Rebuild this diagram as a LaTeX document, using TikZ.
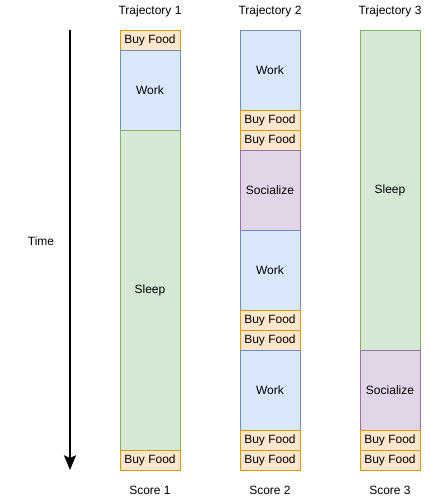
\documentclass[tikz,border=0pt]{standalone}
\usepackage{fontspec}
\setmainfont{Liberation Sans}
\usepackage{tikz}
\usetikzlibrary{calc,positioning,arrows.meta}
\definecolor{workfill}{HTML}{DAE8FC}
\definecolor{workline}{HTML}{6C8EBF}
\definecolor{sleepfill}{HTML}{D5E8D4}
\definecolor{sleepline}{HTML}{82B366}
\definecolor{foodfill}{HTML}{FFE6CC}
\definecolor{foodline}{HTML}{D79B00}
\definecolor{socialfill}{HTML}{E1D5E7}
\definecolor{socialline}{HTML}{9673A6}

\tikzset{
  cell/.style={draw, line width=0.75pt, minimum width=45pt, inner sep=0pt, outer sep=0pt},
  food/.style={cell, fill=foodfill, draw=foodline, minimum height=15pt},
  work/.style={cell, fill=workfill, draw=workline, minimum height=60pt},
  sleep/.style={cell, fill=sleepfill, draw=sleepline},
  social/.style={cell, fill=socialfill, draw=socialline, minimum height=60pt},
}

\begin{document}
\begin{tikzpicture}[x=0.75pt, y=-0.75pt, font=\fontsize{9}{11}\selectfont]
  \useasboundingbox (0,0) rectangle (431,501);

  % time axis
  \coordinate (ttop) at (70,30);
  \coordinate (tbot) at (70,470);
  \draw[line width=1.5pt, -{Stealth[length=11pt, width=9pt, inset=2pt]}] (ttop) -- (tbot);
  \node (time) at (41,241) {Time};

  % trajectory 1
  \node (title1) at (150,11) {Trajectory 1};
  \node[food, anchor=north] (a1) at (150,30) {Buy Food};
  \node[work, below=0pt of a1] (a2) {Work};
  \node[sleep, minimum height=240pt, below=0pt of a2] (a3) {Sleep};
  \node[food, below=0pt of a3] (a4) {Buy Food};
  \node (score1) at (150,490) {Score 1};

  % trajectory 2
  \node (title2) at (270,11) {Trajectory 2};
  \node[work, anchor=north] (b1) at (270,30) {Work};
  \node[food, below=0pt of b1] (b2) {Buy Food};
  \node[food, below=0pt of b2] (b3) {Buy Food};
  \node[social, below=0pt of b3] (b4) {Socialize};
  \node[work, below=0pt of b4] (b5) {Work};
  \node[food, below=0pt of b5] (b6) {Buy Food};
  \node[food, below=0pt of b6] (b7) {Buy Food};
  \node[work, below=0pt of b7] (b8) {Work};
  \node[food, below=0pt of b8] (b9) {Buy Food};
  \node[food, below=0pt of b9] (b10) {Buy Food};
  \node (score2) at (270,490) {Score 2};

  % trajectory 3
  \node (title3) at (390,11) {Trajectory 3};
  \node[sleep, minimum height=240pt, anchor=north] (c1) at (390,30) {Sleep};
  \node[social, below=0pt of c1] (c2) {Socialize};
  \node[food, below=0pt of c2] (c3) {Buy Food};
  \node[food, below=0pt of c3] (c4) {Buy Food};
  \node (score3) at (390,490) {Score 3};
\end{tikzpicture}
\end{document}
